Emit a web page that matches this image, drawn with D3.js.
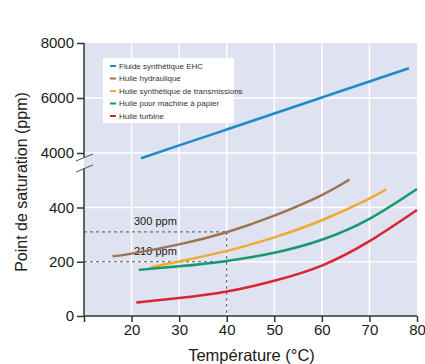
<!DOCTYPE html>
<html>
<head>
<meta charset="utf-8">
<script src="https://cdn.jsdelivr.net/npm/d3@7"></script>
<style>
  body { margin: 0; background: #fff; }
  text { font-family: "Liberation Sans", Arial, sans-serif; fill: #1a1a1a; }
  .legend text { font-family: "Liberation Sans Narrow", "Liberation Sans", sans-serif; font-size: 8px; fill: #333; }
</style>
</head>
<body>
<div id="chart-area"></div>
<script>
// data
var seriesNames = ["Fluide synthétique EHC", "Huile hydraulique", "Huile synthétique de transmissions",
                   "Huile pour machine à papier", "Huile turbine"];
var seriesColors = ["#1f8bc6", "#9b7450", "#f0a933", "#15996f", "#db2432"];

var ehc = [[22, 3810], [30, 4275], [40, 4855], [50, 5435], [60, 6020], [70, 6600], [78.3, 7080]];
var hydraulique = [[16, 220], [20, 230], [30, 264], [40, 309], [50, 370], [60, 446], [65.8, 503]];
var transmissions = [[24, 180], [30, 201], [40, 240], [50, 290], [60, 353], [70, 433], [73.5, 467]];
var papier = [[21.5, 170], [30, 183], [40, 203], [50, 233], [60, 281], [70, 358], [80, 468]];
var turbine = [[21, 50], [30, 66], [40, 90], [50, 130], [60, 186], [70, 276], [80, 391]];
var allSeries = [ehc, hydraulique, transmissions, papier, turbine];

var xTicks = [20, 30, 40, 50, 60, 70, 80];
var yTicksHigh = [4000, 6000, 8000];
var yTicksLow = [0, 200, 400];
var guideValues = [310, 200];
var guideLabels = ["300 ppm", "210 ppm"];
var guideTemp = 40;

// SVG drawing area
var width = 425, height = 364;
var svg = d3.select("#chart-area").append("svg")
    .attr("width", width)
    .attr("height", height);

var x = d3.scaleLinear().domain([10, 80]).range([84, 417]);
var yHigh = d3.scaleLinear().domain([4000, 8000]).range([153, 43]);
var yLow = d3.scaleLinear().domain([0, 400]).range([316, 207.5]);

var plotTop = yHigh(8000), plotBottom = yLow(0);

// background
svg.append("rect")
    .attr("x", x(10)).attr("y", plotTop)
    .attr("width", x(80) - x(10)).attr("height", plotBottom - plotTop)
    .style("fill", "#dfe2f0");

// grid
var grid = svg.append("g").style("stroke", "#fff").style("stroke-width", 1.5);
grid.selectAll("line.v").data(xTicks.filter(function(d) { return d < 80; }))
    .enter().append("line")
    .attr("x1", function(d) { return x(d); }).attr("x2", function(d) { return x(d); })
    .attr("y1", plotTop).attr("y2", plotBottom);
grid.selectAll("line.hh").data([4000, 6000])
    .enter().append("line")
    .attr("x1", x(10)).attr("x2", x(80))
    .attr("y1", function(d) { return yHigh(d); }).attr("y2", function(d) { return yHigh(d); });
grid.selectAll("line.hl").data([200, 400])
    .enter().append("line")
    .attr("x1", x(10)).attr("x2", x(80))
    .attr("y1", function(d) { return yLow(d); }).attr("y2", function(d) { return yLow(d); });

// dashed guides
var guides = svg.append("g")
    .style("stroke", "#555").style("stroke-width", 1).style("stroke-dasharray", "3,3").style("fill", "none");
guides.selectAll("line.g").data(guideValues)
    .enter().append("line")
    .attr("x1", x(10)).attr("x2", x(guideTemp))
    .attr("y1", function(d) { return yLow(d); }).attr("y2", function(d) { return yLow(d); });
guides.append("line")
    .attr("x1", x(guideTemp)).attr("x2", x(guideTemp))
    .attr("y1", yLow(guideValues[0])).attr("y2", plotBottom);

svg.selectAll("text.guide").data(guideLabels)
    .enter().append("text")
    .attr("x", 134)
    .attr("y", function(d, i) { return yLow(guideValues[i]) - 7; })
    .style("font-size", "11px")
    .text(function(d) { return d; });

// curves
function path(d, i) {
    var yScale = i === 0 ? yHigh : yLow;
    return d3.line()
        .x(function(p) { return x(p[0]); })
        .y(function(p) { return yScale(p[1]); })
        .curve(d3.curveNatural)(d);
}
svg.append("g").selectAll("path")
    .data(allSeries)
    .enter().append("path")
    .attr("d", path)
    .style("fill", "none")
    .style("stroke", function(d, i) { return seriesColors[i]; })
    .style("stroke-width", 2.5);

// axes
var axisColor = "#333";
var xAxis = svg.append("g")
    .attr("transform", "translate(0," + plotBottom + ")")
    .call(d3.axisBottom(x).tickValues([10].concat(xTicks)).tickSize(6).tickFormat(function(d) { return d === 10 ? "" : d; }));
xAxis.select(".domain").attr("d", "M" + x(10) + ",0H" + x(80));

var yAxisHigh = svg.append("g")
    .attr("transform", "translate(" + x(10) + ",0)")
    .call(d3.axisLeft(yHigh).tickValues(yTicksHigh).tickSize(7).tickFormat(d3.format("d")));
yAxisHigh.select(".domain").attr("d", "M0," + yHigh(8000) + "V" + 158);

var yAxisLow = svg.append("g")
    .attr("transform", "translate(" + x(10) + ",0)")
    .call(d3.axisLeft(yLow).tickValues(yTicksLow).tickSize(7).tickFormat(d3.format("d")));
yAxisLow.select(".domain").attr("d", "M0,168V" + plotBottom);

svg.selectAll(".tick text").style("font-size", "15px").style("fill", "#1a1a1a")
    .style("font-family", "Liberation Sans, Arial, sans-serif");
xAxis.selectAll(".tick text").attr("dy", "0.68em");
svg.selectAll(".domain, .tick line").style("stroke", axisColor).style("stroke-width", 1.5);

// axis break marks
svg.append("g").selectAll("line")
    .data([161, 172])
    .enter().append("line")
    .attr("x1", x(10) - 8).attr("x2", x(10) + 9)
    .attr("y1", function(d) { return d; }).attr("y2", function(d) { return d - 7; })
    .style("stroke", "#555").style("stroke-width", 1);

// axis titles
svg.append("text")
    .attr("x", (x(10) + x(80)) / 2 + 1)
    .attr("y", 361)
    .style("text-anchor", "middle")
    .style("font-size", "16.5px")
    .text("Température (°C)");

svg.append("text")
    .attr("transform", "translate(27,182) rotate(-90)")
    .style("text-anchor", "middle")
    .style("font-size", "16px")
    .text("Point de saturation (ppm)");

// legend
var legend = svg.append("g").attr("class", "legend");
legend.append("rect")
    .attr("x", 103).attr("y", 58).attr("width", 131).attr("height", 65)
    .style("fill", "#fff");
var items = legend.selectAll("g.item").data(seriesNames)
    .enter().append("g")
    .attr("transform", function(d, i) { return "translate(110," + (66 + i * 12.5) + ")"; });
items.append("line")
    .attr("x1", 0).attr("x2", 6)
    .style("stroke", function(d, i) { return seriesColors[i]; })
    .style("stroke-width", 2);
items.append("text")
    .attr("x", 9).attr("dy", "0.33em")
    .text(function(d) { return d; });
</script>
</body>
</html>
